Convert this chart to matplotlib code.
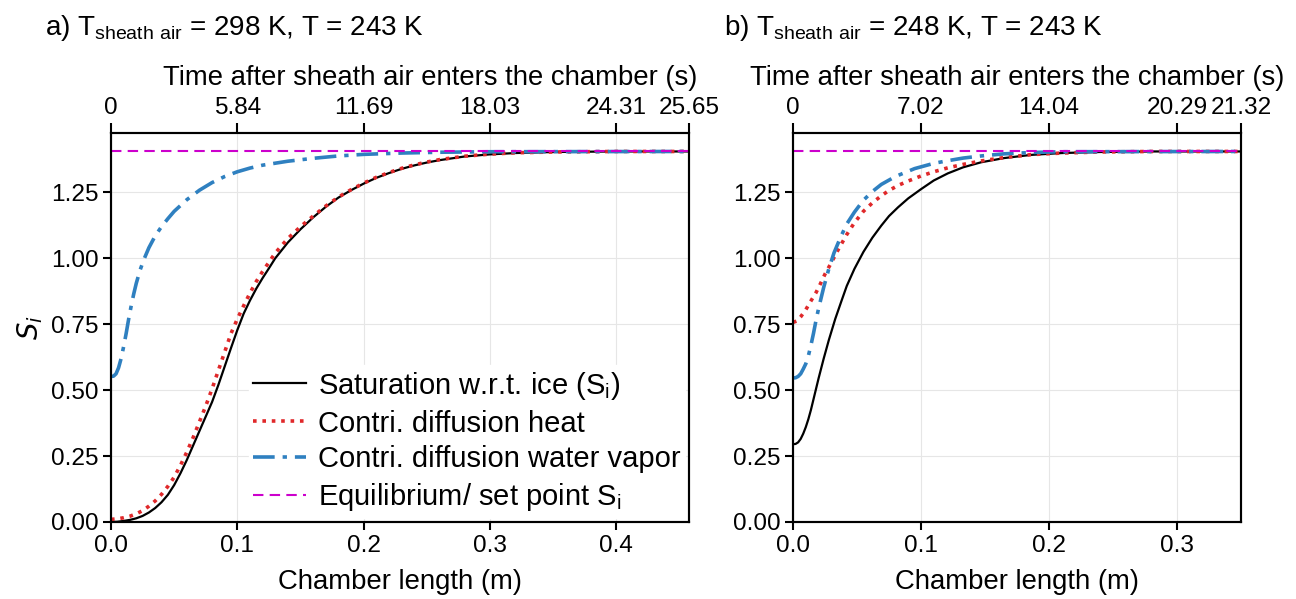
import numpy as np
import matplotlib
matplotlib.use("Agg")
import matplotlib.pyplot as plt
from matplotlib.ticker import FormatStrFormatter

plt.rcParams['font.family'] = ['Liberation Sans', 'DejaVu Sans']
plt.rcParams['mathtext.default'] = 'regular'

# ==========================================
# DATA
# ==========================================

# panel a: T_sheath air = 298 K
xa = [0, 0.005, 0.01, 0.015, 0.02, 0.025, 0.03, 0.035, 0.04, 0.045, 0.05,
      0.055, 0.06, 0.065, 0.07, 0.075, 0.08, 0.085, 0.09, 0.095, 0.10, 0.105,
      0.11, 0.115, 0.12, 0.125, 0.13, 0.14, 0.15, 0.16, 0.17, 0.18, 0.19, 0.20,
      0.21, 0.22, 0.23, 0.24, 0.25, 0.26, 0.28, 0.30, 0.32, 0.35, 0.40, 0.4575]
si_a = [0.000, 0.001, 0.004, 0.008, 0.014, 0.023, 0.036, 0.053, 0.075, 0.103,
        0.14, 0.185, 0.235, 0.29, 0.345, 0.40, 0.455, 0.52, 0.59, 0.66, 0.728,
        0.79, 0.84, 0.885, 0.925, 0.962, 1.0, 1.06, 1.11, 1.155, 1.195, 1.23,
        1.258, 1.283, 1.305, 1.323, 1.339, 1.352, 1.363, 1.372, 1.386, 1.394,
        1.399, 1.403, 1.405, 1.405]
heat_a = [0.010, 0.012, 0.016, 0.022, 0.031, 0.043, 0.06, 0.08, 0.105, 0.135,
          0.17, 0.215, 0.265, 0.32, 0.38, 0.44, 0.505, 0.575, 0.645, 0.715, 0.77,
          0.82, 0.868, 0.912, 0.95, 0.985, 1.02, 1.075, 1.12, 1.16, 1.198, 1.232,
          1.26, 1.285, 1.307, 1.325, 1.341, 1.354, 1.365, 1.374, 1.387, 1.395,
          1.400, 1.403, 1.405, 1.405]
xa_v = [0, 0.002, 0.004, 0.006, 0.008, 0.01, 0.012, 0.014, 0.016, 0.018, 0.02,
        0.023, 0.026, 0.03, 0.035, 0.04, 0.045, 0.05, 0.06, 0.07, 0.08, 0.09,
        0.10, 0.11, 0.12, 0.14, 0.16, 0.18, 0.20, 0.23, 0.26, 0.30, 0.4575]
vap_a = [0.552, 0.553, 0.562, 0.585, 0.62, 0.665, 0.715, 0.77, 0.82, 0.865,
         0.905, 0.955, 0.995, 1.04, 1.085, 1.12, 1.15, 1.178, 1.222, 1.258,
         1.287, 1.31, 1.328, 1.342, 1.353, 1.368, 1.379, 1.388, 1.394, 1.399,
         1.402, 1.404, 1.405]

# panel b: T_sheath air = 248 K
xb = [0, 0.002, 0.004, 0.006, 0.008, 0.01, 0.012, 0.014, 0.016, 0.018, 0.02,
      0.024, 0.028, 0.033, 0.038, 0.042, 0.048, 0.055, 0.062, 0.069, 0.075,
      0.082, 0.09, 0.10, 0.11, 0.121, 0.133, 0.147, 0.165, 0.186, 0.21, 0.24,
      0.28, 0.35]
si_b = [0.295, 0.296, 0.302, 0.315, 0.335, 0.36, 0.39, 0.425, 0.465, 0.505,
        0.545, 0.62, 0.69, 0.77, 0.84, 0.895, 0.96, 1.024, 1.078, 1.124, 1.16,
        1.193, 1.227, 1.262, 1.295, 1.322, 1.345, 1.364, 1.38, 1.392, 1.399,
        1.403, 1.405, 1.405]
xb_h = [0, 0.003, 0.006, 0.01, 0.0136, 0.018, 0.0215, 0.025, 0.029, 0.035,
        0.042, 0.048, 0.055, 0.062, 0.069, 0.075, 0.082, 0.09, 0.10, 0.11,
        0.121, 0.133, 0.147, 0.165, 0.186, 0.21, 0.24, 0.28, 0.35]
heat_b = [0.757, 0.762, 0.778, 0.805, 0.835, 0.87, 0.904, 0.94, 0.975, 1.03,
          1.09, 1.135, 1.178, 1.21, 1.237, 1.257, 1.276, 1.293, 1.312, 1.328,
          1.343, 1.356, 1.369, 1.382, 1.393, 1.399, 1.403, 1.405, 1.405]
xb_v = [0, 0.002, 0.004, 0.006, 0.008, 0.01, 0.012, 0.014, 0.016, 0.018, 0.02,
        0.024, 0.028, 0.032, 0.037, 0.042, 0.048, 0.055, 0.062, 0.069, 0.08,
        0.095, 0.11, 0.121, 0.133, 0.147, 0.165, 0.186, 0.21, 0.35]
vap_b = [0.546, 0.547, 0.552, 0.562, 0.58, 0.60, 0.63, 0.67, 0.715, 0.765, 0.81,
         0.89, 0.96, 1.02, 1.078, 1.13, 1.175, 1.22, 1.253, 1.28, 1.31, 1.34,
         1.36, 1.37, 1.38, 1.388, 1.396, 1.401, 1.404, 1.405]

si_eq = 1.405

# top axis (time) ticks
top_pos_a = [0, 0.1, 0.2, 0.3, 0.4, 0.4575]
top_lab_a = ["0", "5.84", "11.69", "18.03", "24.31", "25.65"]
top_pos_b = [0, 0.1, 0.2, 0.3, 0.35]
top_lab_b = ["0", "7.02", "14.04", "20.29", "21.32"]

titles = [r"a) T$_{sheath\ air}$ = 298 K, T = 243 K",
          r"b) T$_{sheath\ air}$ = 248 K, T = 243 K"]

# ==========================================
# PLOT
# ==========================================

fig = plt.figure(figsize=(12.96, 5.99), dpi=100)
ax_a = fig.add_axes([111/1296, 1-522/599, 578/1296, 389/599])
ax_b = fig.add_axes([793/1296, 1-522/599, 448/1296, 389/599])

FS_TICK = 17.6
FS_LAB = 19.8
FS_LEG = 21
red = "#e0282a"
blue = "#2f80c0"
mag = "#cc00cc"

panels = [
    (ax_a, xa, si_a, xa, heat_a, xa_v, vap_a, 0.4575, top_pos_a, top_lab_a, 0.552),
    (ax_b, xb, si_b, xb_h, heat_b, xb_v, vap_b, 0.35, top_pos_b, top_lab_b, 0.5),
]

for ax, x, si, xh, heat, xv, vap, xmax, tpos, tlab, tx in panels:
    ax.plot(x, si, color="black", lw=1.6, label=r"Saturation w.r.t. ice (S$_i$)")
    ax.plot(xh, heat, color=red, lw=2.6, ls=(0, (1, 1.6)),
            label="Contri. diffusion heat")
    ax.plot(xv, vap, color=blue, lw=2.6, ls=(0, (6, 2.2, 1.2, 2.2)),
            label="Contri. diffusion water vapor")
    ax.axhline(si_eq, color=mag, lw=1.5, ls=(0, (5, 3)),
               label=r"Equilibrium/ set point S$_i$")

    ax.set_xlim(0, xmax)
    ax.set_ylim(0, 1.475)
    ax.set_xticks(np.arange(0, xmax + 1e-9, 0.1))
    ax.set_yticks([0, 0.25, 0.5, 0.75, 1.0, 1.25])
    ax.yaxis.set_major_formatter(FormatStrFormatter("%.2f"))
    ax.xaxis.set_major_formatter(FormatStrFormatter("%.1f"))
    ax.grid(True, color="#e6e6e6", lw=0.8)
    ax.tick_params(labelsize=FS_TICK, width=1.5, length=6, pad=3)
    for s in ax.spines.values():
        s.set_linewidth(1.5)
    ax.set_xlabel("Chamber length (m)", fontsize=FS_LAB, labelpad=9)

    ax2 = ax.twiny()
    ax2.set_xlim(0, xmax)
    ax2.set_xticks(tpos)
    ax2.set_xticklabels(tlab)
    ax2.tick_params(labelsize=FS_TICK, width=1.5, length=7, pad=3)
    for s in ax2.spines.values():
        s.set_linewidth(1.5)
    ax2.set_xlabel("Time after sheath air enters the chamber (s)",
                   fontsize=FS_LAB, labelpad=9)
    ax2.xaxis.label.set_x(tx)

ax_a.set_ylabel("$\\mathit{S_i}$", fontsize=FS_LAB, family="DejaVu Sans",
                labelpad=4)

leg = ax_a.legend(loc="lower right", fontsize=FS_LEG, frameon=True, framealpha=1,
                  edgecolor="white", fancybox=False, labelspacing=0.27,
                  handlelength=1.8, handletextpad=0.4, borderpad=0.15,
                  borderaxespad=0.15)

fig.text(45/1296, 1-28/599, titles[0], fontsize=20, va="center", ha="left")
fig.text(724/1296, 1-28/599, titles[1], fontsize=20, va="center", ha="left")

plt.savefig("out.png", dpi=100)
